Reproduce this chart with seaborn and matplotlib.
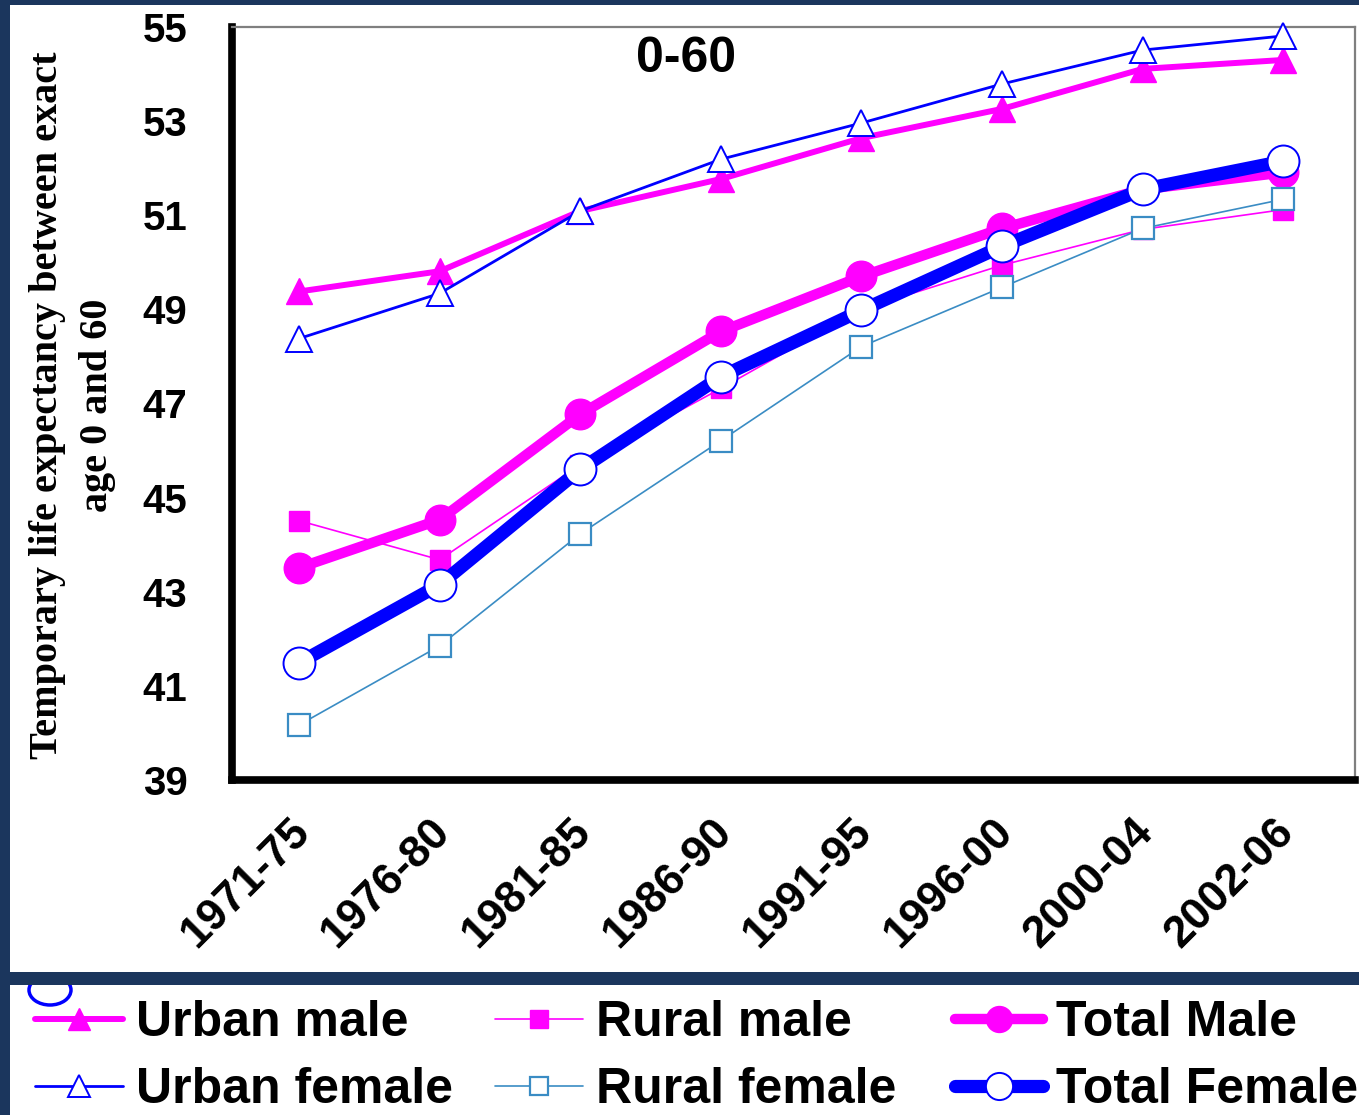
import numpy as np
import pandas as pd
import matplotlib
matplotlib.use("Agg")
import matplotlib.pyplot as plt
import matplotlib.transforms as mtransforms
from matplotlib.patches import Rectangle, Ellipse
import seaborn as sns

# Periods and temporary life expectancy (years lived between exact ages 0 and 60)
periods = ["1971-75", "1976-80", "1981-85", "1986-90", "1991-95", "1996-00", "2000-04", "2002-06"]
urban_male = [49.38, 49.81, 51.09, 51.77, 52.64, 53.26, 54.11, 54.30]
rural_male = [44.51, 43.68, 45.70, 47.32, 49.00, 49.94, 50.70, 51.12]
total_male = [43.51, 44.53, 46.77, 48.53, 49.70, 50.72, 51.55, 51.91]
urban_female = [48.38, 49.34, 51.09, 52.19, 52.96, 53.79, 54.51, 54.81]
rural_female = [40.17, 41.85, 44.23, 46.21, 48.21, 49.47, 50.72, 51.34]
total_female = [41.49, 43.15, 45.60, 47.57, 48.98, 50.34, 51.55, 52.15]

MAGENTA = "#FF00FF"
BLUE = "#0000FF"
STEEL = "#3A8CC4"
NAVY = "#1B365D"

sns.set_theme(style="white")
plt.rcParams["font.family"] = ["Liberation Sans", "DejaVu Sans"]
plt.rcParams["text.color"] = "black"
plt.rcParams["xtick.color"] = "black"
plt.rcParams["ytick.color"] = "black"

fig = plt.figure(figsize=(13.59, 11.15), dpi=100, facecolor=NAVY)

# white panels for the chart and the legend strip
fig.patches.append(Rectangle((10 / 1359, 1 - 972 / 1115), 1349 / 1359, 967 / 1115,
                             transform=fig.transFigure, facecolor="white", edgecolor="none", zorder=-5))
legend_panel = Rectangle((10 / 1359, 0), 1349 / 1359, 130 / 1115,
                         transform=fig.transFigure, facecolor="white", edgecolor="none", zorder=-5)
fig.patches.append(legend_panel)

# small open circle peeking out at the top-left of the legend strip
peek = Ellipse((50 / 1359, 1 - 990 / 1115), 42 / 1359, 30 / 1115, transform=fig.transFigure,
               facecolor="white", edgecolor=BLUE, linewidth=2.5, zorder=-4)
fig.patches.append(peek)
peek.set_clip_path(legend_panel)

ax = fig.add_axes([232 / 1359, 1 - 780 / 1115, 1123 / 1359, 753 / 1115])
ax.set_facecolor("white")

series = [
    ("Rural male", rural_male, dict(color=MAGENTA, linewidth=1.2, marker="s", markersize=15,
                                     markerfacecolor=MAGENTA, markeredgecolor=MAGENTA, markeredgewidth=1), 3),
    ("Urban male", urban_male, dict(color=MAGENTA, linewidth=4.3, marker="^", markersize=19,
                                     markerfacecolor=MAGENTA, markeredgecolor=MAGENTA, markeredgewidth=1), 4),
    ("Total Male", total_male, dict(color=MAGENTA, linewidth=7.5, marker="o", markersize=22,
                                     markerfacecolor=MAGENTA, markeredgecolor=MAGENTA, markeredgewidth=1), 5),
    ("Rural female", rural_female, dict(color=STEEL, linewidth=1.2, marker="s", markersize=16,
                                         markerfacecolor="white", markeredgecolor=STEEL, markeredgewidth=1.6), 6),
    ("Urban female", urban_female, dict(color=BLUE, linewidth=2.0, marker="^", markersize=19,
                                         markerfacecolor="white", markeredgecolor=BLUE, markeredgewidth=1.4), 7),
    ("Total Female", total_female, dict(color=BLUE, linewidth=9.5, marker="o", markersize=23,
                                         markerfacecolor="white", markeredgecolor=BLUE, markeredgewidth=1.4), 8),
]

handles = {}
for name, vals, style, z in series:
    df = pd.DataFrame({"period": periods, "value": vals})
    sns.lineplot(data=df, x="period", y="value", ax=ax, sort=False, label=name,
                 zorder=z, clip_on=False, **style)
    handles[name] = ax.get_lines()[-1]

if ax.get_legend() is not None:
    ax.get_legend().remove()

ax.set_xlim(-0.477, 7.51)
ax.set_ylim(39, 55)
ax.set_yticks(np.arange(39, 56, 2))
ax.set_xticks(range(len(periods)))
ax.set_xticklabels(periods)
ax.set_xlabel("")
ax.set_ylabel("")

for side in ["left", "bottom"]:
    ax.spines[side].set_color("black")
    ax.spines[side].set_linewidth(5.5)
for side in ["top", "right"]:
    ax.spines[side].set_color("#7f7f7f")
    ax.spines[side].set_linewidth(1.6)

ax.tick_params(axis="both", length=0)
ax.tick_params(axis="y", pad=32, labelsize=29)
ax.tick_params(axis="x", pad=33, labelsize=32)
for t in ax.get_yticklabels():
    t.set_fontweight("bold")
offset = mtransforms.ScaledTranslation(4 / 100, 0, fig.dpi_scale_trans)
for t in ax.get_xticklabels():
    t.set_fontweight("bold")
    t.set_rotation(45)
    t.set_ha("right")
    t.set_va("center")
    t.set_rotation_mode("anchor")
    t.set_transform(t.get_transform() + offset)

ax.text((686 - 232) / 1123, 1 - (59 - 27) / 753, "0-60", transform=ax.transAxes,
        ha="center", va="center", fontsize=36, fontweight="bold", color="black")

fig.text(72.5 / 1359, 1 - 405 / 1115,
         "Temporary life expectancy between exact\nage 0 and 60",
         rotation=90, ha="center", va="center", multialignment="center",
         fontsize=29, fontweight="bold", family=["Liberation Serif", "DejaVu Serif"],
         linespacing=1.45, color="black")

# legend strip: three columns of two entries each
columns = [(["Urban male", "Urban female"], 35),
           (["Rural male", "Rural female"], 495),
           (["Total Male", "Total Female"], 955)]
for names, xpx in columns:
    leg = fig.legend([handles[n] for n in names], names,
                     loc="upper left", bbox_to_anchor=(xpx / 1359, 1 - 1000 / 1115),
                     frameon=False, borderpad=0, borderaxespad=0,
                     handlelength=1.75, handletextpad=0.28, labelspacing=0.42,
                     markerscale=0.85, numpoints=1,
                     prop={"weight": "bold", "size": 36, "family": ["Liberation Sans", "DejaVu Sans"]})
    for txt in leg.get_texts():
        txt.set_color("black")

fig.savefig("out.png", dpi=100, facecolor=NAVY)
